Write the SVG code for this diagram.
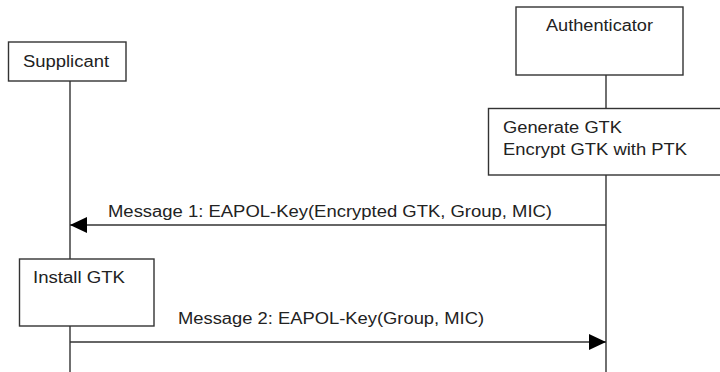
<svg xmlns="http://www.w3.org/2000/svg" width="720" height="372" viewBox="0 0 720 372">
<defs>
<style>
.box{fill:#fff;stroke:#333;stroke-width:1.4}
.ll{stroke:#333;stroke-width:1.4;fill:none}
text{font-family:"Liberation Sans",Arial,sans-serif;font-size:16px;fill:#222}
</style>
<marker id="ah" viewBox="0 0 17 16" refX="17" refY="8" markerWidth="17" markerHeight="16" markerUnits="userSpaceOnUse" orient="auto">
<path d="M0,0 L17,8 L0,16 Z" fill="#000"/>
</marker>
</defs>
<rect width="720" height="372" fill="#fff"/>
<g id="lifelines">
<line class="ll" x1="70" y1="81" x2="70" y2="372"/>
<line class="ll" x1="606" y1="75" x2="606" y2="372"/>
</g>
<g id="supplicant">
<rect class="box" x="8.5" y="42" width="117.5" height="39"/>
<text x="23" y="67" textLength="86" lengthAdjust="spacingAndGlyphs">Supplicant</text>
</g>
<g id="authenticator">
<rect class="box" x="516" y="7" width="167" height="68"/>
<text x="546" y="31" textLength="107" lengthAdjust="spacingAndGlyphs">Authenticator</text>
</g>
<g id="generate">
<rect class="box" x="488.5" y="108.5" width="240" height="66.5"/>
<text x="503" y="133" textLength="119" lengthAdjust="spacingAndGlyphs">Generate GTK</text>
<text x="503" y="155" textLength="184" lengthAdjust="spacingAndGlyphs">Encrypt GTK with PTK</text>
</g>
<g id="install">
<rect class="box" x="19.5" y="259" width="134.5" height="67"/>
<text x="33" y="283" textLength="92" lengthAdjust="spacingAndGlyphs">Install GTK</text>
</g>
<g id="connectors">
<line class="ll" x1="606" y1="225" x2="70" y2="225" marker-end="url(#ah)"/>
<text x="108" y="217" textLength="444" lengthAdjust="spacingAndGlyphs">Message 1: EAPOL-Key(Encrypted GTK, Group, MIC)</text>
<line class="ll" x1="70" y1="342" x2="606" y2="342" marker-end="url(#ah)"/>
<text x="178" y="324" textLength="306" lengthAdjust="spacingAndGlyphs">Message 2: EAPOL-Key(Group, MIC)</text>
</g>
</svg>
